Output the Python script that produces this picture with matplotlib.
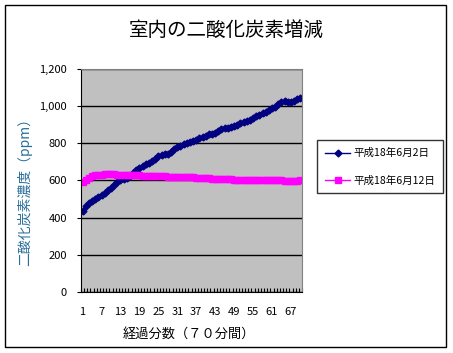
import numpy as np
import matplotlib
matplotlib.use('Agg')
import matplotlib.pyplot as plt
from matplotlib.patches import Rectangle

plt.rcParams['font.family'] = ['Noto Sans CJK JP', 'DejaVu Sans']

minutes = list(range(1, 71))
blue_vals = [438, 465, 480, 492, 500, 510, 520, 535, 548, 560,
             575, 590, 600, 608, 615, 625, 640, 655, 668, 678,
             688, 695, 705, 718, 730, 738, 742, 745, 752, 770,
             782, 788, 795, 800, 808, 815, 820, 828, 835, 842,
             848, 850, 855, 865, 875, 882, 885, 888, 895, 900,
             908, 915, 920, 925, 935, 945, 955, 962, 970, 980,
             990, 998, 1010, 1020, 1028, 1025, 1022, 1030, 1040, 1042]
pink_vals = [590, 605, 615, 622, 627, 630, 632, 633, 634, 634,
             633, 632, 630, 628, 630, 632, 631, 628, 627, 626,
             625, 625, 624, 624, 623, 622, 622, 621, 621, 620,
             620, 619, 619, 618, 618, 617, 615, 613, 612, 616,
             613, 610, 608, 607, 606, 607, 608, 606, 605, 604,
             604, 604, 603, 603, 603, 602, 602, 601, 601, 600,
             600, 600, 600, 600, 599, 598, 597, 597, 599, 600]
series_names = ['平成18年6月2日', '平成18年6月12日']
xtick_labels = [1, 7, 13, 19, 25, 31, 37, 43, 49, 55, 61, 67]
yticks = [0, 200, 400, 600, 800, 1000, 1200]

fig = plt.figure(figsize=(4.53, 3.53), dpi=100)
fig.patches.append(Rectangle((5/453, 1-347/353), 441/453, 342/353,
                             transform=fig.transFigure, fill=False,
                             edgecolor='black', linewidth=1))

ax = fig.add_axes([81/453, 1-292/353, 221/453, 223/353])
ax.set_facecolor('#C0C0C0')

l1, = ax.plot(minutes, blue_vals, color='#000080', marker='D', markersize=3.5,
              linewidth=1, label=series_names[0])
l2, = ax.plot(minutes, pink_vals, color='#FF00FF', marker='s', markersize=4,
              linewidth=1, label=series_names[1])

ax.set_xlim(0.5, 70.5)
ax.set_ylim(0, 1200)
ax.set_yticks(yticks)
ax.set_yticklabels([f'{v:,}' for v in yticks], fontsize=8)
ax.yaxis.grid(True, color='black', linewidth=1)
ax.set_axisbelow(True)

ax.set_xticks(xtick_labels)
ax.set_xticklabels([str(v) for v in xtick_labels], fontsize=8)
ax.tick_params(axis='x', which='major', length=0, pad=11)
ax.set_xticks(np.arange(0.5, 71, 1), minor=True)
ax.tick_params(axis='x', which='minor', direction='in', length=3, width=0.8)
ax.tick_params(axis='y', length=3, pad=7)

for s in ['top', 'right']:
    ax.spines[s].set_color('#808080')
for s in ['left', 'bottom']:
    ax.spines[s].set_color('black')

fig.text(226/453, 1-30/353, '室内の二酸化炭素増減', ha='center', va='center', fontsize=14)
fig.text(189/453, 1-334/353, '経過分数（７０分間）', ha='center', va='center', fontsize=9.5)
fig.text(25/453, 1-188/353, '二酸化炭素濃度（ppm）', ha='center', va='center',
         rotation=90, fontsize=10, color='#2a6f9a')

leg = fig.legend(handles=[l1, l2], loc='upper left',
                 bbox_to_anchor=(317/453, 1-140/353), fontsize=7.6,
                 frameon=True, fancybox=False, edgecolor='black',
                 handlelength=2.4, labelspacing=1.6, borderpad=0.75,
                 handletextpad=0.3, borderaxespad=0)
leg.get_frame().set_linewidth(1)

fig.savefig('out.png', dpi=100)
